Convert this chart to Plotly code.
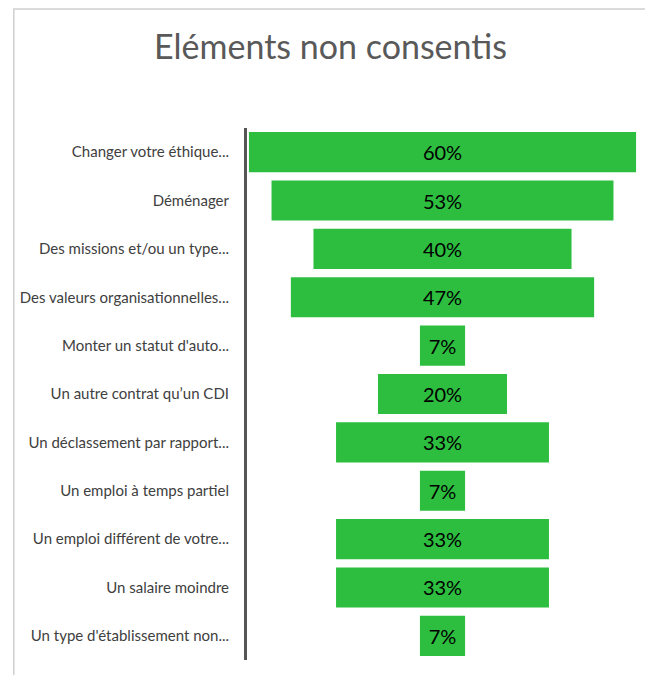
import plotly.graph_objects as go

categories = [
    "Changer votre éthique...",
    "Déménager",
    "Des missions et/ou un type...",
    "Des valeurs organisationnelles...",
    "Monter un statut d'auto...",
    "Un autre contrat qu’un CDI",
    "Un déclassement par rapport...",
    "Un emploi à temps partiel",
    "Un emploi différent de votre...",
    "Un salaire moindre",
    "Un type d'établissement non...",
]
values = [60, 53, 40, 47, 7, 20, 33, 7, 33, 33, 7]
labels = [f"{v}%" for v in values]

fig = go.Figure(go.Funnel(
    y=categories, x=values, text=labels, textinfo="text",
    textposition="inside", insidetextanchor="middle",
    textfont=dict(size=20, color="#000000"),
    marker=dict(color="#2dbe3f", line=dict(width=0)),
    connector=dict(visible=False),
))

# page body adds an 8px offset, so the figure is a bit smaller than the window
fig.update_layout(
    width=645, height=667,
    margin=dict(l=236, r=15, t=120, b=15),
    paper_bgcolor="white", plot_bgcolor="white",
    font=dict(family="Lato, 'Open Sans', sans-serif", color="#404040"),
    title=dict(text="Eléments non consentis", x=0.5, xanchor="center",
               y=1 - 39 / 667, yanchor="middle", yref="container",
               font=dict(size=34, color="#595959")),
    funnelgap=0.17, showlegend=False,
)
fig.update_xaxes(range=[-30.3, 30.3], visible=False)
fig.update_yaxes(showline=True, linewidth=3, linecolor="#555555",
                 ticks="", ticklabelstandoff=12,
                 tickfont=dict(size=15, color="#404040"))

# light frame around the chart
fig.add_shape(type="rect", xref="paper", yref="paper",
              x0=-0.5964, x1=1.2, y0=-0.1, y1=1.2237,
              line=dict(color="#d0d0d0", width=1.5), layer="below")

fig.write_html("out.html")
